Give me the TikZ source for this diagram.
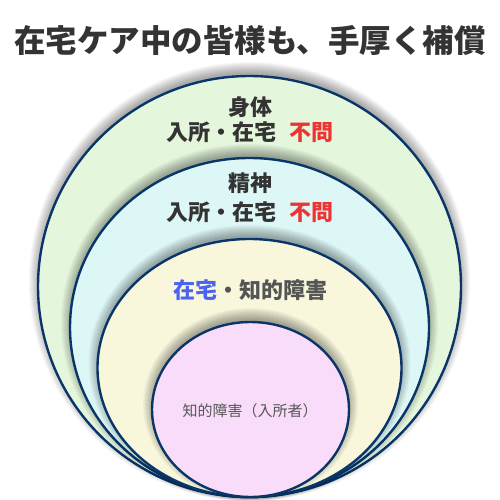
\documentclass[tikz,border=0pt]{standalone}
\usepackage{fontspec}
\newfontfamily\jp{Noto Sans CJK JP}
\definecolor{navy}{HTML}{0A3569}
\definecolor{fgreen}{HTML}{E4F6DC}
\definecolor{fcyan}{HTML}{DDF7F6}
\definecolor{fcream}{HTML}{F8F7DC}
\definecolor{fpink}{HTML}{F9DCF9}
\definecolor{tdark}{HTML}{333333}
\definecolor{tgray}{HTML}{555555}
\definecolor{tred}{HTML}{EE3333}
\definecolor{tblue}{HTML}{4A64F0}
\newcommand\myglow[4]{%
  \foreach \k in {1,...,12}{%
    \fill[black, opacity=0.03] (#1,#2-5) ellipse [x radius=#3pt+\k pt-3pt, y radius=#4pt+\k pt-3pt];}}
\begin{document}
\begin{tikzpicture}[x=1pt,y=-1pt,
  ring/.style={draw=navy, line width=2.4pt},
  lbl/.style={inner sep=0pt, text=tdark, font=\jp\bfseries\fontsize{22}{24}\selectfont}]
\useasboundingbox (0,0) rectangle (500,500);
\fill[white] (0,0) rectangle (500,500);
% rings
\myglow{249.5}{286.5}{211.5}{210.5}
\path[ring, fill=fgreen] (249.5,286.5) ellipse [x radius=211.5pt, y radius=210.5pt];
\myglow{249.5}{327.5}{179.5}{169.5}
\path[ring, fill=fcyan] (249.5,327.5) ellipse [x radius=179.5pt, y radius=169.5pt];
\myglow{249.5}{368}{152}{129}
\path[ring, fill=fcream] (249.5,368) ellipse [x radius=152pt, y radius=129pt];
\myglow{250.5}{409.5}{98.5}{87.5}
\path[ring, fill=fpink] (250.5,409.5) ellipse [x radius=98.5pt, y radius=87.5pt];
% texts
\node[inner sep=0pt, text=tdark, font=\jp\bfseries\fontsize{31.5}{34}\selectfont] (title) at (250,40) {在宅ケア中の皆様も、手厚く補償};
\node[lbl] (body) at (250,107) {身体};
\node[lbl] (bodyc) at (250,132) {入所・在宅\hspace{0.6em}\textcolor{tred}{不問}};
\node[lbl] (mind) at (250,183) {精神};
\node[lbl] (mindc) at (250,212) {入所・在宅\hspace{0.6em}\textcolor{tred}{不問}};
\node[lbl, text=tgray] (home) at (250,290) {\textcolor{tblue}{在宅}・知的障害};
\node[inner sep=0pt, text=tgray, font=\jp\fontsize{15}{17}\selectfont] (inst) at (250,411) {知的障害（入所者）};
\end{tikzpicture}
\end{document}
